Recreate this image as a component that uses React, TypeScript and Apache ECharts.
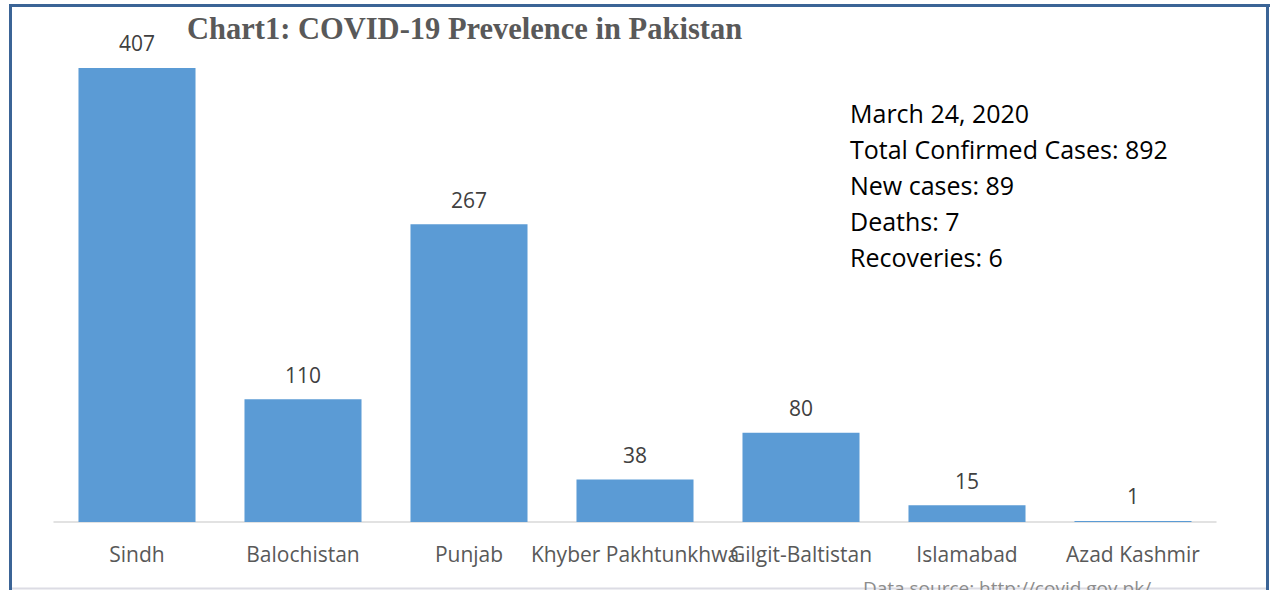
import React, { useEffect, useRef } from "react";
import * as echarts from "echarts";

const categories = [
  "Sindh",
  "Balochistan",
  "Punjab",
  "Khyber Pakhtunkhwa",
  "Gilgit-Baltistan",
  "Islamabad",
  "Azad Kashmir",
];
const cases = [407, 110, 267, 38, 80, 15, 1];
const yMax = 450;
const titleText = "Chart1: COVID-19 Prevelence in Pakistan";
const infoLines = [
  "March 24, 2020",
  "Total Confirmed Cases: 892",
  "New cases: 89",
  "Deaths: 7",
  "Recoveries: 6",
];
const sourceText = "Data source: http://covid.gov.pk/";

export default function App() {
  const ref = useRef<HTMLDivElement>(null);
  useEffect(() => {
    if (!ref.current) return;
    const chart = echarts.init(ref.current, undefined, { renderer: "svg" });
    const borderColor = "#3B6496";
    const sans = "'Open Sans', sans-serif";
    chart.setOption({
      animation: false,
      backgroundColor: "#ffffff",
      title: {
        text: titleText,
        left: 182,
        top: 8,
        textStyle: {
          fontFamily: "'Liberation Serif', serif",
          fontWeight: "bold",
          fontSize: 30.5,
          color: "#595959",
        },
      },
      grid: { left: 54, right: 54, top: 20, bottom: 68 },
      xAxis: {
        type: "category",
        data: categories,
        axisLine: { lineStyle: { color: "#D9D9D9", width: 1.5 } },
        axisTick: { show: false },
        axisLabel: {
          interval: 0,
          fontSize: 21,
          margin: 21,
          color: "#595959",
          fontFamily: sans,
        },
      },
      yAxis: {
        type: "value",
        min: 0,
        max: yMax,
        show: false,
        splitLine: { show: false },
      },
      series: [
        {
          type: "bar",
          data: cases,
          barWidth: "70.5%",
          itemStyle: { color: "#5B9BD5" },
          label: {
            show: true,
            position: "top",
            distance: 14,
            fontSize: 21,
            color: "#404040",
            fontFamily: sans,
          },
        },
      ],
      graphic: [
        {
          type: "line",
          shape: { x1: 9, y1: 5.5, x2: 1270, y2: 5.5 },
          style: { stroke: borderColor, lineWidth: 3 },
        },
        {
          type: "line",
          shape: { x1: 10.5, y1: 4, x2: 10.5, y2: 590 },
          style: { stroke: borderColor, lineWidth: 3 },
        },
        {
          type: "line",
          shape: { x1: 1267.5, y1: 4, x2: 1267.5, y2: 590 },
          style: { stroke: borderColor, lineWidth: 3 },
        },
        {
          type: "line",
          shape: { x1: 12, y1: 588.5, x2: 1266, y2: 588.5 },
          style: { stroke: "#DCDCE4", lineWidth: 2 },
        },
        ...infoLines.map((t, i) => ({
          type: "text",
          x: 850,
          y: 113 + i * 36,
          style: {
            text: t,
            fontSize: 25,
            fontFamily: sans,
            fill: "#000000",
            verticalAlign: "middle",
          },
        })),
        {
          type: "text",
          x: 1007,
          y: 578,
          style: {
            text: sourceText,
            fontSize: 19,
            fontFamily: sans,
            fill: "#8C8C8C",
            align: "center",
            verticalAlign: "top",
          },
        },
      ],
    });
    return () => chart.dispose();
  }, []);
  return (
    <div
      ref={ref}
      style={{ position: "absolute", left: 0, top: 0, width: 1270, height: 590 }}
    />
  );
}
